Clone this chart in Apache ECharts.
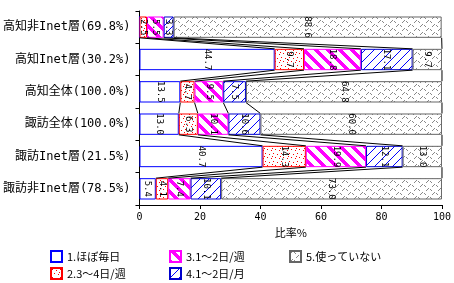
<!DOCTYPE html>
<html><head><meta charset="utf-8">
<script src="https://cdn.jsdelivr.net/npm/echarts@6/dist/echarts.min.js"></script>
<style>html,body{margin:0;padding:0;background:#fff}#c{width:454px;height:283px}</style>
</head><body><div id="c"></div>
<script>
const categories = ['高知非Inet層(69.8%)','高知Inet層(30.2%)','高知全体(100.0%)','諏訪全体(100.0%)','諏訪Inet層(21.5%)','諏訪非Inet層(78.5%)'];
const seriesNames = ['1.ほぼ毎日','2.3〜4日/週','3.1〜2日/週','4.1〜2日/月','5.使っていない'];
const s1 = [0.0, 44.7, 13.5, 13.0, 40.7, 5.4];
const s2 = [2.5, 9.7, 4.7, 6.3, 14.3, 4.1];
const s3 = [5.5, 18.8, 9.5, 10.1, 19.9, 7.4];
const s4 = [3.3, 17.1, 7.5, 10.6, 12.1, 10.1];
const s5 = [88.6, 9.7, 64.8, 60.0, 13.0, 73.0];
const xTicks = [0, 20, 40, 60, 80, 100];

const allSeries = [s1, s2, s3, s4, s5];

function tile(w, h, draw) {
  const c = document.createElement('canvas');
  c.width = w; c.height = h;
  const g = c.getContext('2d');
  g.fillStyle = '#fff'; g.fillRect(0, 0, w, h);
  draw(g, w, h);
  return c;
}
const pats = [
  '#ffffff',
  {image: tile(8, 8, (g) => { g.fillStyle = '#ff0000'; [[1,1],[5,2],[3,5],[7,6],[0,4]].forEach(p => g.fillRect(p[0], p[1], 1, 1)); }), repeat: 'repeat'},
  {image: tile(12, 12, (g, w, h) => { g.fillStyle = '#ff00ff'; for (let y = 0; y < h; y++) for (let x = 0; x < w; x++) if (((x - y) % w + w) % w < 5) g.fillRect(x, y, 1, 1); }), repeat: 'repeat'},
  {image: tile(9, 9, (g, w, h) => { g.fillStyle = '#0000ff'; for (let y = 0; y < h; y++) for (let x = 0; x < w; x++) if ((x + y) % w === 0) g.fillRect(x, y, 1, 1); }), repeat: 'repeat'},
  {image: tile(12, 8, (g) => { g.fillStyle = '#888888';
      [[0,2],[1,1],[2,0]].forEach(p => g.fillRect(p[0], p[1], 1, 1));
      [[6,6],[7,5],[8,4]].forEach(p => g.fillRect(p[0], p[1], 1, 1));
      [[4,1],[5,2]].forEach(p => g.fillRect(p[0], p[1], 1, 1));
      [[10,5],[11,6]].forEach(p => g.fillRect(p[0], p[1], 1, 1)); }), repeat: 'repeat'}
];
const borders = ['#0000ff', '#ff0000', '#ff00ff', '#0000cc', '#666666'];

const barPct = 0.66;
const cum = categories.map((_, i) => { let s = 0; return allSeries.map(a => (s += a[i])); });

const barSeries = allSeries.map((d, k) => ({
  name: seriesNames[k], type: 'bar', stack: 'a', barWidth: '66%',
  data: d,
  itemStyle: {color: pats[k], borderColor: borders[k], borderWidth: 1},
  label: {show: true, position: 'inside', rotate: -90, fontSize: 9, color: '#000',
    fontFamily: 'DejaVu Sans Mono',
    formatter: p => p.value > 0 ? p.value.toFixed(1) : ''},
  emphasis: {disabled: true}
}));

const lineSeries = {
  type: 'custom', silent: true, z: 5,
  data: [[0, 0], [0, 1], [0, 2], [0, 3], [0, 4]],
  renderItem: function (params, api) {
    const i = params.dataIndex;
    const band = api.size([0, 1])[1];
    const h = band * barPct;
    const children = [];
    for (let k = 0; k < 5; k++) {
      const p1 = api.coord([cum[i][k], categories[i]]);
      const p2 = api.coord([cum[i + 1][k], categories[i + 1]]);
      children.push({type: 'line', shape: {x1: p1[0], y1: p1[1] + h / 2, x2: p2[0], y2: p2[1] - h / 2},
        style: {stroke: '#000', lineWidth: 1}});
    }
    return {type: 'group', children};
  }
};

const legendText = {fontSize: 11, color: '#000', fontFamily: 'Noto Sans CJK JP'};
function leg(left, names) {
  return {orient: 'vertical', left: left, top: 250, width: 120, height: 30, padding: 0,
    itemWidth: 11, itemHeight: 11, itemGap: 4, icon: 'rect',
    data: names, textStyle: legendText, selectedMode: false};
}
const chart = echarts.init(document.getElementById('c'));
chart.setOption({
  animation: false,
  backgroundColor: '#fff',
  grid: {left: 138, right: 11, top: 11, bottom: 78},
  xAxis: {type: 'value', min: 0, max: 100, interval: 20,
    axisLine: {show: true, lineStyle: {color: '#000'}},
    axisTick: {show: true, length: 4, lineStyle: {color: '#000'}},
    splitLine: {show: false},
    axisLabel: {fontSize: 10, color: '#000', margin: 7, fontFamily: 'DejaVu Sans Mono',
      formatter: v => xTicks.includes(v) ? String(v) : ''},
    name: '比率%', nameLocation: 'middle', nameGap: 22,
    nameTextStyle: {fontSize: 11, color: '#000', fontFamily: 'Noto Sans CJK JP'}},
  yAxis: {type: 'category', data: categories, inverse: true,
    axisLine: {show: true, lineStyle: {color: '#000'}},
    axisTick: {show: true, length: 4, lineStyle: {color: '#000'}},
    axisLabel: {fontSize: 12, color: '#000', margin: 9, fontFamily: 'DejaVu Sans Mono, Noto Sans CJK JP'}},
  legend: [
    leg(50, [seriesNames[0], seriesNames[1]]),
    leg(169, [seriesNames[2], seriesNames[3]]),
    leg(289, [seriesNames[4]])
  ],
  series: barSeries.concat([lineSeries])
});
</script></body></html>
